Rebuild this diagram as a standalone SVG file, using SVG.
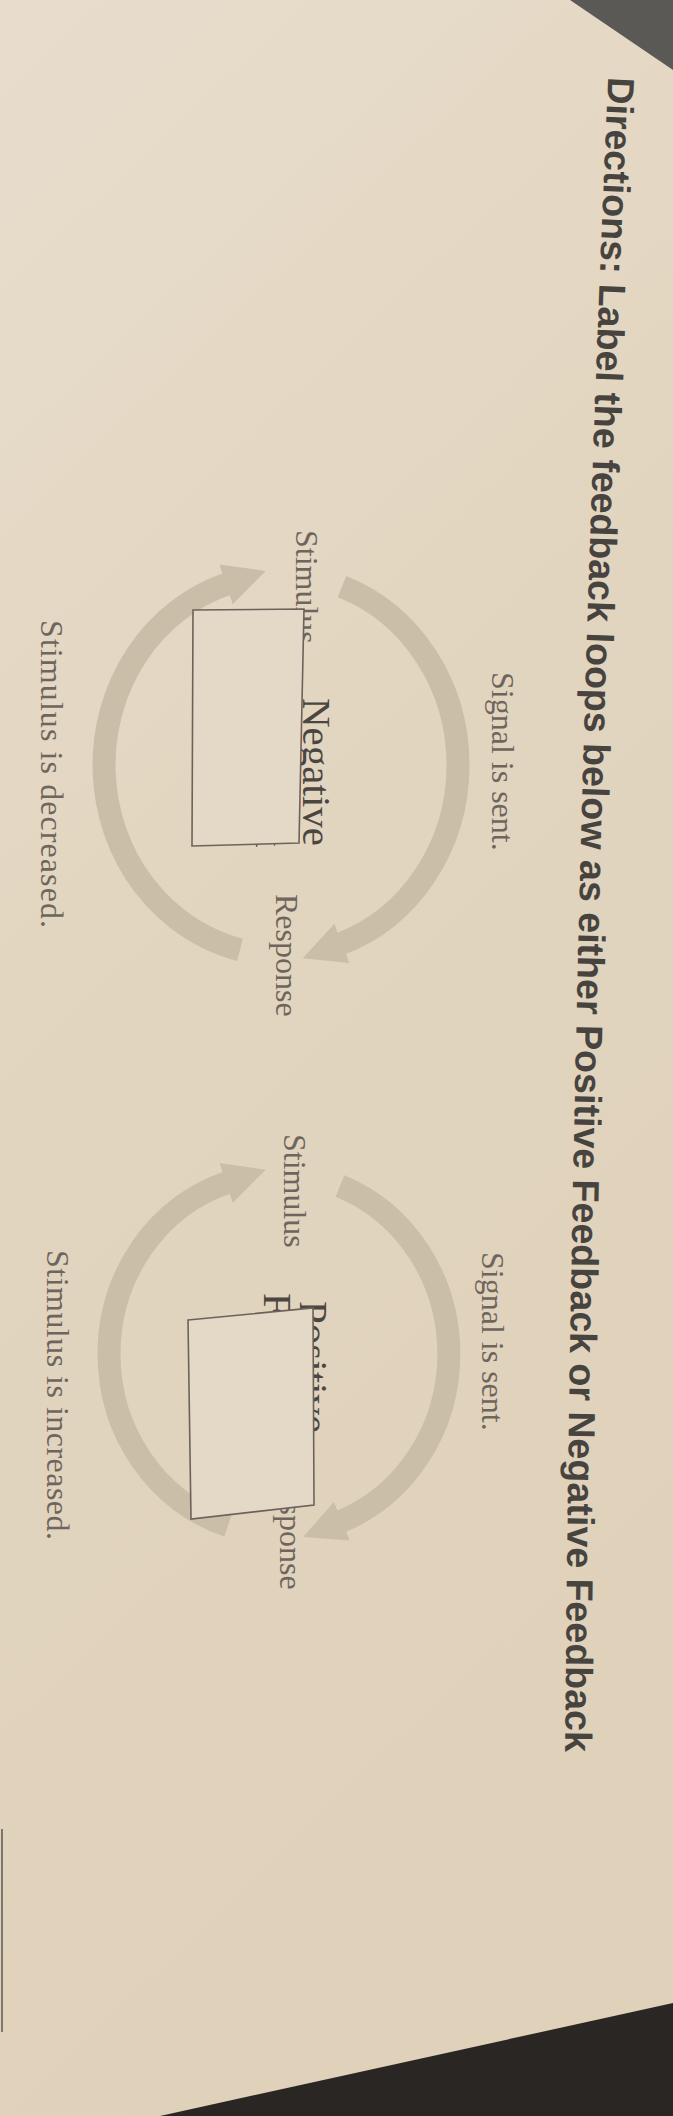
<svg xmlns="http://www.w3.org/2000/svg" width="673" height="2116" viewBox="0 0 673 2116">
<defs>
<linearGradient id="paper" x1="0" y1="0" x2="0.3" y2="1">
<stop offset="0" stop-color="#e8ddcd"/>
<stop offset="0.5" stop-color="#e2d5bf"/>
<stop offset="1" stop-color="#dfd1ba"/>
</linearGradient>
<marker id="ah" viewBox="0 0 10 10" refX="0.5" refY="5" markerUnits="userSpaceOnUse" markerWidth="42" markerHeight="62" orient="auto">
<path d="M0,0 L10,5 L0,10 Z" fill="#cbbea9"/>
</marker>
<path id="titlePath" d="M609,60 Q572,880 565,1770" fill="none"/>
<style>
.arc{fill:none;stroke:#cbbea9;stroke-width:23;marker-end:url(#ah)}
.lbl{font-family:"Liberation Serif","Times New Roman",serif;font-size:32px;fill:#6e655c}
.typed{font-family:"Liberation Serif","Times New Roman",serif;font-size:41px;fill:#4c4640}
.box{fill:#e4d9c6;stroke:#6b635b;stroke-width:1.6}
.title{font-family:"Liberation Sans",Arial,sans-serif;font-weight:bold;font-size:37.6px;fill:#47433f}
</style>
</defs>
<rect x="0" y="0" width="673" height="2116" fill="url(#paper)"/>
<polygon points="570,0 673,0 673,70" fill="#5b5955"/>
<polygon points="673,2003 673,2116 160,2116" fill="#2a2623"/>
<line x1="2" y1="1829" x2="2" y2="2032" stroke="#5e5750" stroke-width="1.5"/>

<g id="title">
<text class="title"><textPath href="#titlePath" startOffset="17">Directions: Label the feedback loops below as either Positive Feedback or Negative Feedback</textPath></text>
</g>

<g id="connectors">
<path class="arc" d="M342,586.6 A177,190 0 0 1 340,944.1"/>
<path class="arc" d="M240,949.8 A177,190 0 0 1 228,583.7"/>
<path class="arc" d="M340,1186 A170,180 0 0 1 340,1521.9"/>
<path class="arc" d="M228,1525.7 A170,180 0 0 1 228,1182.3"/>
</g>

<g id="loop1">
<text class="lbl" x="492" y="672" transform="rotate(90 492 672)">Signal is sent.</text>
<text class="lbl" x="276" y="894" transform="rotate(90 276 894)">Response</text>
<text class="lbl" x="41" y="620" font-size="34" textLength="308" transform="rotate(90 41 620)">Stimulus is decreased.</text>
<g id="box1">
<text class="lbl" x="296" y="530" transform="rotate(90 296 530)">Stimulus</text>
<text class="typed" x="303" y="698" transform="rotate(90 303 698)">Negative</text>
<text class="typed" x="256" y="690" transform="rotate(90 256 690)">Feedback</text>
<polygon class="box" points="193,610 304,609 299,843 192,846"/>
</g>
</g>

<g id="loop2">
<text class="lbl" x="482" y="1252" transform="rotate(90 482 1252)">Signal is sent.</text>
<text class="lbl" x="284" y="1134" transform="rotate(90 284 1134)">Stimulus</text>
<text class="lbl" x="47" y="1250" font-size="33" textLength="290" transform="rotate(90 47 1250)">Stimulus is increased.</text>
<g id="box2">
<text class="lbl" x="280" y="1467" transform="rotate(90 280 1467)">Response</text>
<text class="typed" x="300" y="1301" font-size="30" transform="rotate(90 300 1301)">Positive</text>
<text class="typed" x="264" y="1293" font-size="30" transform="rotate(90 264 1293)">Feedback</text>
<polygon class="box" points="188,1320 313,1308 314,1505 191,1519"/>
</g>
</g>
</svg>
